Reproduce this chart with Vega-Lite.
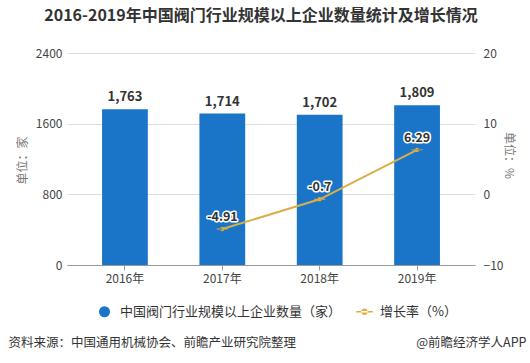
{
  "$schema": "https://vega.github.io/schema/vega-lite/v6.json",
  "autosize": {"type": "none"},
  "width": 408,
  "height": 212,
  "padding": {"left": 67, "top": 53, "right": 55, "bottom": 98},
  "background": "white",
  "config": {
    "font": "Noto Sans CJK SC",
    "view": {"stroke": null},
    "text": {"font": "Noto Sans CJK SC"}
  },
  "title": {
    "text": "2016-2019年中国阀门行业规模以上企业数量统计及增长情况",
    "fontSize": 16,
    "fontWeight": "bold",
    "color": "#333333",
    "anchor": "middle",
    "dx": -10,
    "offset": 23
  },
  "data": {
    "values": [
      {"year": "2016年", "series": "中国阀门行业规模以上企业数量（家）", "value": 1763},
      {"year": "2017年", "series": "中国阀门行业规模以上企业数量（家）", "value": 1714},
      {"year": "2018年", "series": "中国阀门行业规模以上企业数量（家）", "value": 1702},
      {"year": "2019年", "series": "中国阀门行业规模以上企业数量（家）", "value": 1809},
      {"year": "2017年", "series": "增长率（%）", "value": -4.91},
      {"year": "2018年", "series": "增长率（%）", "value": -0.7},
      {"year": "2019年", "series": "增长率（%）", "value": 6.29}
    ]
  },
  "layer": [
    {
      "transform": [{"filter": "datum.series === '中国阀门行业规模以上企业数量（家）'"}],
      "encoding": {
        "x": {
          "field": "year", "type": "nominal", "sort": null,
          "scale": {"domain": ["2016年", "2017年", "2018年", "2019年"], "paddingInner": 0.53, "paddingOuter": 0.36},
          "axis": {
            "labelAngle": 0, "labelFontSize": 12, "labelColor": "#444444", "labelPadding": 3,
            "domainColor": "#999999", "tickColor": "#999999", "tickSize": 5,
            "title": "资料来源：中国通用机械协会、前瞻产业研究院整理",
            "titleFontSize": 12.5, "titleFontWeight": "normal", "titleColor": "#333333",
            "titleAnchor": "start", "titleAlign": "left", "titleBaseline": "middle",
            "titleX": -59, "titleY": 77
          }
        },
        "y": {
          "field": "value", "type": "quantitative",
          "scale": {"domain": [0, 2400]},
          "axis": {
            "values": [0, 800, 1600, 2400], "format": "d", "domain": false, "ticks": false,
            "gridColor": "#dddddd", "labelFontSize": 12, "labelColor": "#444444", "labelPadding": 5,
            "title": "单位：家", "titleFontSize": 12, "titleFontWeight": "normal", "titleColor": "#777777",
            "titleAngle": -90, "titleAlign": "center", "titleBaseline": "middle",
            "titleX": -45, "titleY": 107
          }
        }
      },
      "layer": [
        {
          "mark": {"type": "bar", "color": "#1A75C8"},
          "encoding": {
            "color": {
              "field": "series", "type": "nominal",
              "scale": {"domain": ["中国阀门行业规模以上企业数量（家）", "增长率（%）"], "range": ["#1A75C8", "#E3AE38"]},
              "legend": {
                "title": null, "orient": "none", "direction": "horizontal",
                "legendX": 31, "legendY": 252, "labelLimit": 400,
                "labelFontSize": 13, "labelColor": "#333333",
                "symbolSize": 121, "labelOffset": 9, "columnPadding": 14
              }
            }
          }
        },
        {
          "mark": {"type": "text", "baseline": "bottom", "dy": -5, "fontSize": 13, "fontWeight": "bold", "color": "#333333"},
          "encoding": {"text": {"field": "value", "type": "quantitative", "format": ","}}
        }
      ]
    },
    {
      "transform": [{"filter": "datum.series === '增长率（%）'"}],
      "encoding": {
        "x": {
          "field": "year", "type": "nominal", "sort": null,
          "scale": {"domain": ["2016年", "2017年", "2018年", "2019年"], "paddingInner": 0.53, "paddingOuter": 0.36},
          "axis": {
            "orient": "bottom", "labels": false, "ticks": false, "domain": false, "grid": false,
            "title": "@前瞻经济学人APP", "titleFontSize": 12.5, "titleFontWeight": "normal", "titleColor": "#333333",
            "titleAnchor": "end", "titleAlign": "right", "titleBaseline": "middle",
            "titleX": 459, "titleY": 77
          }
        },
        "y": {
          "field": "value", "type": "quantitative",
          "scale": {"domain": [-10, 20]},
          "axis": {
            "orient": "right", "values": [-10, 0, 10, 20], "domain": false, "ticks": false, "grid": false,
            "labelFontSize": 12, "labelColor": "#444444", "labelPadding": 8,
            "title": "单位：%", "titleFontSize": 12, "titleFontWeight": "normal", "titleColor": "#777777",
            "titleAngle": 90, "titleAlign": "center", "titleBaseline": "middle",
            "titleX": 33, "titleY": 102
          }
        }
      },
      "layer": [
        {
          "mark": {"type": "line", "color": "#D8AE48", "strokeWidth": 2}
        },
        {
          "mark": {"type": "point", "filled": true, "size": 55, "opacity": 1},
          "encoding": {
            "color": {"field": "series", "type": "nominal", "scale": {"domain": ["中国阀门行业规模以上企业数量（家）", "增长率（%）"], "range": ["#1A75C8", "#E3AE38"]}},
            "shape": {
              "field": "series", "type": "nominal",
              "scale": {"domain": ["中国阀门行业规模以上企业数量（家）", "增长率（%）"], "range": ["circle", "M-1.5,-0.12L1.5,-0.12L1.5,0.12L-1.5,0.12Z M-0.6,0A0.6,0.6 0 1,0 0.6,0A0.6,0.6 0 1,0 -0.6,0Z"]}
            }
          }
        },
        {
          "mark": {"type": "text", "dy": -12, "fontSize": 12.5, "fontWeight": "bold", "stroke": "white", "strokeWidth": 3, "strokeJoin": "round", "color": "white"},
          "encoding": {"text": {"field": "value", "type": "nominal"}}
        },
        {
          "mark": {"type": "text", "dy": -12, "fontSize": 12.5, "fontWeight": "bold", "color": "#333333"},
          "encoding": {"text": {"field": "value", "type": "nominal"}}
        }
      ]
    }
  ],
  "resolve": {"scale": {"y": "independent"}, "axis": {"x": "independent"}}
}
